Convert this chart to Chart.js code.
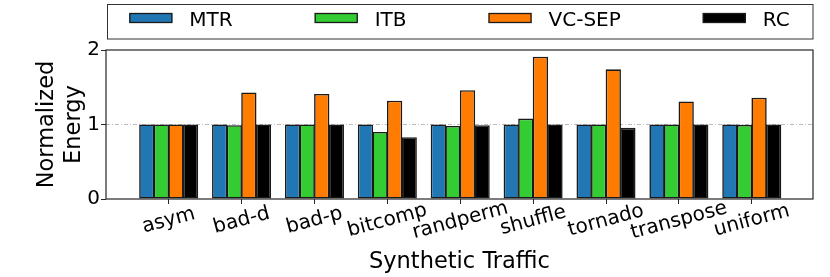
<!DOCTYPE html>
<html>
<head>
<meta charset="utf-8">
<script src="https://cdn.jsdelivr.net/npm/chart.js@4.4.1/dist/chart.umd.min.js"></script>
<style>
  html, body { margin: 0; padding: 0; background: #fff; }
  canvas { display: block; }
</style>
</head>
<body>
<canvas id="energyChart" width="830" height="277"></canvas>
<script>
// data
const categories = ['asym', 'bad-d', 'bad-p', 'bitcomp', 'randperm', 'shuffle', 'tornado', 'transpose', 'uniform'];
const mtr   = [1.00, 1.00, 1.00, 1.00, 1.00, 1.00, 1.00, 1.00, 1.00];
const itb   = [1.00, 0.99, 1.00, 0.90, 0.98, 1.08, 1.00, 1.00, 0.995];
const vcSep = [1.00, 1.43, 1.41, 1.32, 1.46, 1.91, 1.74, 1.31, 1.36];
const rc    = [1.00, 1.00, 1.00, 0.83, 0.99, 1.00, 0.955, 1.00, 1.00];
const yTicks = [0, 1, 2];

const seriesNames = ['MTR', 'ITB', 'VC-SEP', 'RC'];
const seriesValues = [mtr, itb, vcSep, rc];
const seriesColors = ['#2077b4', '#33cc33', '#ff7c00', '#000000'];

Chart.defaults.font.family = '"DejaVu Sans", sans-serif';
Chart.defaults.color = '#000';

// legend drawn in a framed box above the plot, like the matplotlib one
const legendBox = {
    id: 'legendBox',
    afterDraw(chart) {
        const { ctx, chartArea } = chart;
        ctx.save();
        ctx.font = '20px "DejaVu Sans"';
        const swatchW = 43, textGap = 17, gap = 82;
        const items = chart.data.datasets.map(ds => ({
            ds: ds,
            w: swatchW + textGap + ctx.measureText(ds.label).width
        }));
        const total = items.reduce((s, it) => s + it.w, 0) + gap * (items.length - 1);

        ctx.strokeStyle = '#333';
        ctx.lineWidth = 1;
        ctx.strokeRect(chartArea.left + 1.5, 4.5, chartArea.right - chartArea.left - 1.5, 34.5);

        let x = (chartArea.left + chartArea.right) / 2 - total / 2;
        ctx.textBaseline = 'middle';
        ctx.textAlign = 'left';
        items.forEach(it => {
            ctx.fillStyle = it.ds.backgroundColor;
            ctx.fillRect(x, 13, swatchW, 10);
            ctx.strokeStyle = '#1a1a1a';
            ctx.lineWidth = 1.3;
            ctx.strokeRect(x + 0.5, 13.5, swatchW - 1, 9);
            ctx.fillStyle = '#000';
            ctx.fillText(it.ds.label, x + swatchW + textGap, 20.5);
            x += it.w + gap;
        });
        ctx.restore();
    }
};

// plot frame on all four sides
const plotFrame = {
    id: 'plotFrame',
    afterDatasetsDraw(chart) {
        const { ctx, chartArea } = chart;
        ctx.save();
        ctx.strokeStyle = '#262626';
        ctx.lineWidth = 1.2;
        ctx.strokeRect(chartArea.left, chartArea.top, chartArea.right - chartArea.left, chartArea.bottom - chartArea.top);
        ctx.restore();
    }
};

// rotated x labels centred on their tick (matplotlib ha='center')
const centreXLabels = {
    id: 'centreXLabels',
    afterDataLimits(chart, args) {
        if (args.scale.id === 'x') {
            args.scale._getXAxisLabelAlignment = () => 'center';
        }
    }
};

const ctx = document.getElementById('energyChart').getContext('2d');
new Chart(ctx, {
    type: 'bar',
    data: {
        datasets: seriesNames.map((name, k) => ({
            label: name,
            data: categories.map((c, i) => ({ x: i, y: seriesValues[k][i] })),
            backgroundColor: seriesColors[k],
            borderColor: '#1a1a1a',
            borderWidth: 1.6,
            borderSkipped: false,
            categoryPercentage: 0.8,
            barPercentage: 1.05
        }))
    },
    options: {
        responsive: false,
        animation: false,
        layout: { padding: { top: 50, right: 17, left: 0, bottom: 0 } },
        plugins: {
            legend: { display: false },
            tooltip: { enabled: false }
        },
        scales: {
            x: {
                type: 'linear',
                min: -0.86,
                max: 8.84,
                offset: false,
                afterFit(scale) { scale.height = 78; },
                border: { display: false },
                grid: {
                    offset: false,
                    drawOnChartArea: false,
                    tickLength: 5,
                    tickColor: '#262626',
                    tickWidth: 1
                },
                ticks: {
                    stepSize: 1,
                    includeBounds: false,
                    autoSkip: false,
                    minRotation: 15,
                    maxRotation: 15,
                    padding: 5,
                    font: { size: 20 },
                    callback: (v) => categories[v]
                },
                title: {
                    display: true,
                    text: 'Synthetic Traffic',
                    font: { size: 22.5 },
                    padding: { top: 0, bottom: 1.5 }
                }
            },
            y: {
                min: 0,
                max: 2,
                afterFit(scale) { scale.width = 106; },
                afterBuildTicks(scale) { scale.ticks = yTicks.map(v => ({ value: v })); },
                border: { display: false, dash: [4, 2, 1, 2] },
                grid: {
                    color: (c) => (c.tick && c.tick.value === 1 ? '#bbbbbb' : 'rgba(0,0,0,0)'),
                    lineWidth: 1,
                    tickLength: 5,
                    tickColor: '#262626',
                    tickBorderDash: []
                },
                ticks: {
                    padding: 1,
                    font: { size: 20 }
                },
                title: {
                    display: true,
                    text: ['Normalized', 'Energy'],
                    font: { size: 22.5 },
                    padding: { top: 33.5, bottom: 0 }
                }
            }
        }
    },
    plugins: [centreXLabels, plotFrame, legendBox]
});
</script>
</body>
</html>
